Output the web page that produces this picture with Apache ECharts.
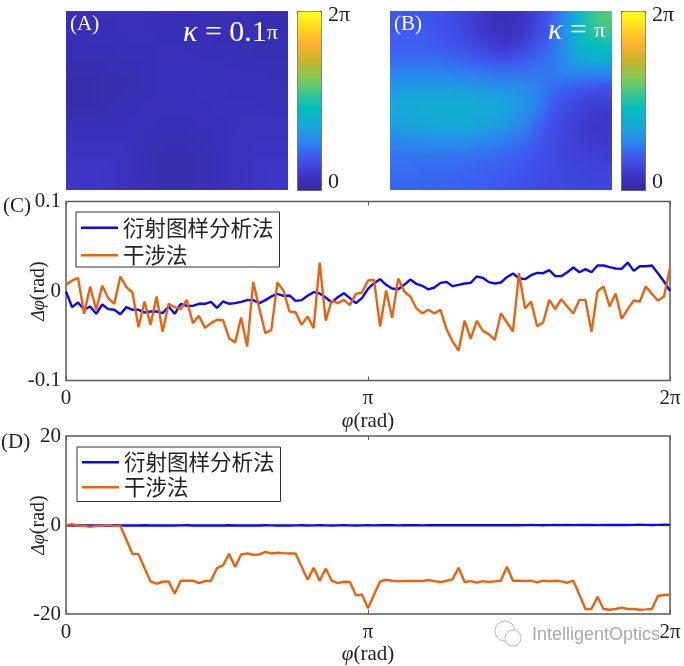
<!DOCTYPE html>
<html>
<head>
<meta charset="utf-8">
<style>
  html, body { margin: 0; padding: 0; background: #fff; }
  #main { width: 684px; height: 666px; }
</style>
</head>
<body>
<div id="main"></div>
<script src="https://cdn.jsdelivr.net/npm/echarts@6/dist/echarts.min.js"></script>
<script>
// Panel (C): phase error, kappa = pi range
const diffractionC = [
  -0.0006, -0.018, -0.0128, -0.021, -0.0173, -0.0255, -0.0151, -0.0203, -0.021, -0.0259,
  -0.018, -0.021, -0.021, -0.024, -0.0229, -0.0229, -0.0247, -0.0173, -0.0255, -0.0143,
  -0.0166, -0.0166, -0.0143, -0.0143, -0.0121, -0.0188, -0.0117, -0.0143, -0.0136, -0.0121,
  -0.0102, -0.0102, -0.0136, -0.0102, -0.0061, -0.0032, -0.0054, -0.005, -0.011, -0.0102,
  -0.0054, -0.0013, -0.0028, -0.0073, -0.0128, -0.0069, -0.0024, -0.008, -0.0136, -0.008,
  0.0024, 0.0087, 0.0132, 0.0069, 0.0028, 0.002, 0.0069, 0.0128, 0.008, 0.0058,
  0.0017, 0.0039, 0.0091, 0.0102, 0.0054, 0.0069, 0.0084, 0.0091, 0.0162, 0.0147,
  0.0099, 0.0084, 0.0095, 0.0154, 0.0195, 0.0143, 0.0132, 0.0177, 0.0203, 0.0199,
  0.0233, 0.0166, 0.0166, 0.021, 0.0262, 0.021, 0.0244, 0.021, 0.0285, 0.0285,
  0.0266, 0.0251, 0.0247, 0.0318, 0.0225, 0.0277, 0.0277, 0.0285, 0.0199, 0.0106,
  0.0002
];
const interferenceC = [
  0.0069, 0.0117, 0.0147, -0.0255, 0.005, -0.021, 0.0058, -0.008, -0.0143, 0.0162,
  0.0043, -0.0017, -0.0404, -0.0117, -0.0378, -0.0061, -0.0456, -0.0143, -0.0181, -0.0203,
  -0.0099, -0.0359, -0.0277, -0.0412, -0.0359, -0.0322, -0.0326, -0.0527, -0.0575, -0.0296,
  -0.062, 0.0102, -0.0192, -0.0471, -0.0434, 0.0095, 0.0006, -0.0229, -0.0236, -0.0378,
  -0.0285, -0.0415, 0.0318, -0.033, -0.0106, -0.0136, -0.0099, -0.0158, -0.0032, -0.0017,
  0.0117, 0.0125, -0.0397, 0.0006, -0.03, 0.014, -0.0006, -0.0061, -0.0192, -0.0251,
  -0.021, -0.0251, -0.021, -0.0426, -0.0564, -0.0665, -0.033, -0.0534, -0.0333, -0.0445,
  -0.0482, -0.0546, -0.0248, -0.0352, -0.0452, 0.0199, -0.0195, -0.0117, -0.0393, -0.0352,
  -0.0099, -0.0203, -0.0091, -0.0173, -0.0251, -0.0099, -0.0099, -0.0456, -0.0002, 0.005,
  -0.0173, -0.0028, -0.0311, -0.0203, -0.0106, -0.0117, 0.005, -0.0032, -0.0106, -0.0061,
  0.0255
];

// Panel (D)
const diffractionD = [
  -0.08, -0.1, -0.06, -0.1, -0.08, -0.12, -0.08, -0.1, -0.06, -0.1,
  -0.08, -0.1, -0.1, -0.06, -0.1, -0.12, -0.08, -0.1, -0.1, -0.08,
  -0.06, -0.1, -0.08, -0.1, -0.12, -0.08, -0.1, -0.06, -0.1, -0.08,
  -0.1, -0.08, -0.1, -0.06, -0.08, -0.1, -0.08, -0.1, -0.08, -0.06,
  -0.1, -0.08, -0.06, -0.08, -0.1, -0.08, -0.06, -0.08, -0.1, -0.08,
  -0.06, -0.08, -0.06, -0.04, -0.06, -0.08, -0.06, -0.04, -0.06, -0.08,
  -0.06, -0.04, -0.06, -0.04, -0.06, -0.04, -0.02, -0.04, -0.06, -0.04,
  -0.02, -0.04, -0.02, -0.04, -0.02, -0.04, -0.02, 0, -0.02, -0.04,
  -0.02, 0, -0.02, 0, -0.02, 0, 0.02, 0, -0.02, 0,
  0.02, 0, 0.02, 0, 0.02, 0.04, 0.02, 0, 0.02, 0.04,
  0.03
];
const interferenceD = [
  -0.04, 0.19, -0.11, -0.19, -0.41, -0.19, -0.19, 0.04, -0.19, -0.19,
  -3.33, -6.47, -6.54, -9.68, -12.67, -13.2, -12.75, -12.67, -15.44, -12.52,
  -12.52, -12.52, -13.05, -12.6, -12.52, -9.68, -9.08, -6.47, -9.46, -6.62,
  -6.39, -6.69, -6.62, -6.02, -6.39, -6.24, -6.32, -6.39, -6.39, -9.31,
  -12.3, -9.61, -12.52, -9.76, -12.52, -13.05, -12.75, -12.82, -15.81, -15.59,
  -18.73, -15.66, -12.67, -12.3, -12.52, -12.67, -12.6, -12.6, -12.6, -12.6,
  -12.37, -12.6, -12.82, -12.52, -12.22, -9.61, -12.82, -12.6, -12.97, -12.6,
  -12.82, -12.67, -12.52, -9.38, -12.52, -12.52, -12.6, -12.52, -12.9, -12.52,
  -12.67, -12.52, -12.67, -12.97, -12.52, -15.66, -18.88, -18.88, -16.11, -18.88,
  -19.03, -18.88, -18.58, -18.88, -18.88, -19.03, -18.96, -18.88, -15.96, -15.74,
  -15.66
];

// Phase maps, rows listed top to bottom (rad)
const mapA = [
  [0.34, 0.36, 0.36, 0.36, 0.36, 0.36, 0.34, 0.34, 0.32, 0.32, 0.30, 0.30, 0.28, 0.28, 0.26, 0.26],
  [0.34, 0.34, 0.34, 0.36, 0.36, 0.36, 0.36, 0.34, 0.34, 0.32, 0.32, 0.30, 0.30, 0.28, 0.28, 0.28],
  [0.30, 0.32, 0.34, 0.34, 0.36, 0.36, 0.36, 0.36, 0.36, 0.34, 0.34, 0.34, 0.32, 0.32, 0.30, 0.30],
  [0.28, 0.28, 0.30, 0.32, 0.34, 0.34, 0.36, 0.38, 0.38, 0.38, 0.36, 0.36, 0.34, 0.34, 0.34, 0.32],
  [0.24, 0.24, 0.26, 0.28, 0.30, 0.34, 0.36, 0.38, 0.40, 0.40, 0.38, 0.38, 0.38, 0.36, 0.36, 0.34],
  [0.22, 0.22, 0.24, 0.26, 0.30, 0.34, 0.36, 0.38, 0.40, 0.40, 0.40, 0.40, 0.38, 0.38, 0.38, 0.36],
  [0.22, 0.22, 0.24, 0.28, 0.32, 0.36, 0.38, 0.38, 0.38, 0.40, 0.40, 0.40, 0.40, 0.40, 0.38, 0.38],
  [0.28, 0.28, 0.30, 0.32, 0.36, 0.38, 0.38, 0.36, 0.36, 0.38, 0.40, 0.40, 0.42, 0.42, 0.42, 0.40],
  [0.36, 0.36, 0.36, 0.38, 0.38, 0.38, 0.36, 0.34, 0.34, 0.36, 0.38, 0.40, 0.42, 0.44, 0.44, 0.44],
  [0.42, 0.42, 0.42, 0.42, 0.40, 0.36, 0.32, 0.30, 0.30, 0.32, 0.36, 0.40, 0.44, 0.46, 0.48, 0.46],
  [0.48, 0.48, 0.48, 0.46, 0.42, 0.36, 0.30, 0.26, 0.26, 0.28, 0.34, 0.40, 0.46, 0.48, 0.50, 0.50],
  [0.52, 0.54, 0.52, 0.48, 0.42, 0.34, 0.28, 0.24, 0.24, 0.28, 0.34, 0.40, 0.46, 0.48, 0.52, 0.52],
  [0.54, 0.56, 0.54, 0.48, 0.40, 0.32, 0.28, 0.26, 0.26, 0.28, 0.34, 0.40, 0.44, 0.50, 0.52, 0.52]
];
const mapB = [
  [1.15, 1.15, 1.10, 1.05, 0.95, 0.80, 0.60, 0.40, 0.38, 0.50, 0.80, 1.15, 1.70, 2.60, 3.30, 3.60],
  [1.20, 1.20, 1.15, 1.10, 1.00, 0.85, 0.65, 0.45, 0.42, 0.60, 0.90, 1.25, 1.80, 2.70, 3.20, 3.40],
  [1.25, 1.25, 1.25, 1.20, 1.12, 1.00, 0.85, 0.70, 0.65, 0.80, 1.05, 1.35, 1.80, 2.50, 2.85, 2.95],
  [1.40, 1.40, 1.40, 1.38, 1.32, 1.25, 1.15, 1.05, 1.05, 1.15, 1.30, 1.50, 1.80, 2.20, 2.40, 2.45],
  [1.70, 1.70, 1.70, 1.70, 1.65, 1.60, 1.55, 1.50, 1.48, 1.50, 1.50, 1.55, 1.65, 1.70, 1.70, 1.70],
  [2.00, 2.05, 2.05, 2.05, 2.05, 2.00, 1.95, 1.90, 1.85, 1.80, 1.65, 1.45, 1.30, 1.20, 1.10, 1.05],
  [2.25, 2.30, 2.35, 2.35, 2.35, 2.35, 2.30, 2.25, 2.15, 2.00, 1.70, 1.30, 1.05, 0.90, 0.80, 0.78],
  [2.25, 2.30, 2.35, 2.40, 2.40, 2.40, 2.35, 2.25, 2.10, 1.90, 1.55, 1.15, 0.92, 0.78, 0.68, 0.65],
  [2.05, 2.10, 2.15, 2.20, 2.20, 2.20, 2.10, 2.00, 1.85, 1.65, 1.35, 1.05, 0.85, 0.72, 0.64, 0.62],
  [1.70, 1.75, 1.80, 1.85, 1.85, 1.80, 1.75, 1.65, 1.55, 1.40, 1.20, 0.98, 0.85, 0.75, 0.68, 0.65],
  [1.50, 1.50, 1.50, 1.50, 1.50, 1.48, 1.42, 1.38, 1.30, 1.20, 1.08, 0.95, 0.85, 0.80, 0.75, 0.72],
  [1.40, 1.40, 1.38, 1.38, 1.35, 1.32, 1.28, 1.25, 1.20, 1.10, 1.02, 0.95, 0.88, 0.85, 0.82, 0.80],
  [1.32, 1.32, 1.30, 1.28, 1.28, 1.25, 1.22, 1.18, 1.12, 1.05, 0.98, 0.92, 0.90, 0.88, 0.85, 0.85]
];

const colorRamp = ['#33289a', '#3e36ca', '#4056f0', '#2b88f0', '#17aad8', '#00bcc0', '#3fc88c', '#8cc850', '#c8b428', '#ffb030', '#ffd820', '#ffff10'];
const phaseMax = 6.283;
const seriesNames = ['衍射图样分析法', '干涉法'];
const lineColors = ['#0808f5', '#e8620f'];
const xTickLabels = { 0: '0', 50: 'π', 100: '2π' };

const serif = '"Liberation Serif", "Times New Roman", serif';
const axisGray = '#5a5a5a';

function toCells(rows) {
  const cells = [];
  rows.forEach((row, y) => row.forEach((v, x) => cells.push([x, y, v])));
  return cells;
}

// one small canvas pixel per cell, the browser smooths it when it is scaled up
function toCanvas(rows) {
  const canvas = document.createElement('canvas');
  canvas.width = rows[0].length;
  canvas.height = rows.length;
  const ctx = canvas.getContext('2d');
  rows.forEach((row, y) => row.forEach((v, x) => {
    ctx.fillStyle = echarts.color.lerp(v / phaseMax, colorRamp);
    ctx.fillRect(x, y, 1, 1);
  }));
  return canvas;
}

function mapAxes(rows, gridIndex) {
  return {
    x: { type: 'category', gridIndex, show: false, data: rows[0].map((_, i) => i) },
    y: { type: 'category', gridIndex, show: false, inverse: true, data: rows.map((_, i) => i) }
  };
}

function mapSeries(rows, gridIndex) {
  const canvas = toCanvas(rows);
  return {
    type: 'custom',
    xAxisIndex: gridIndex,
    yAxisIndex: gridIndex,
    data: toCells(rows),
    encode: { x: 0, y: 1 },
    silent: true,
    renderItem: (params, api) => {
      if (params.dataIndex !== 0) return null;
      const first = api.coord([0, 0]);
      const cell = api.size([1, 1]);
      return {
        type: 'image',
        style: {
          image: canvas,
          x: first[0] - cell[0] / 2,
          y: first[1] - cell[1] / 2,
          width: cell[0] * rows[0].length,
          height: cell[1] * rows.length
        }
      };
    }
  };
}

function lineAxisX(gridIndex, labelMargin, nameGap) {
  return {
    type: 'category',
    gridIndex,
    boundaryGap: false,
    data: diffractionC.map((_, i) => i),
    name: '{i|φ}(rad)',
    nameLocation: 'middle',
    nameGap,
    nameTextStyle: {
      fontFamily: serif, fontSize: 21, color: '#222',
      rich: { i: { fontFamily: serif, fontStyle: 'italic', fontSize: 21, color: '#222' } }
    },
    axisLine: { show: false, onZero: false },
    axisTick: { interval: 49, inside: true, length: 4, lineStyle: { color: axisGray } },
    axisLabel: {
      interval: 49, margin: labelMargin, fontFamily: serif, fontSize: 21, color: '#222',
      formatter: v => xTickLabels[v] || ''
    }
  };
}

function lineAxisY(gridIndex, min, max, interval, digits, nameGap) {
  return {
    type: 'value',
    gridIndex, min, max, interval,
    name: '{i|Δφ}(rad)',
    nameLocation: 'middle',
    nameRotate: 90,
    nameGap,
    nameMoveOverlap: false,
    nameTextStyle: {
      fontFamily: serif, fontSize: 20, color: '#222',
      rich: { i: { fontFamily: serif, fontStyle: 'italic', fontSize: 18, color: '#222' } }
    },
    splitLine: { show: false },
    axisLine: { show: false, onZero: false },
    axisTick: { inside: true, length: 4, lineStyle: { color: axisGray } },
    axisLabel: {
      margin: 5, fontFamily: serif, fontSize: 21, color: '#222',
      formatter: v => String(+v.toFixed(digits))
    }
  };
}

// same ticks on the opposite side of the box, no text
function mirrorAxis(axis, position) {
  return { ...axis, position, name: '', axisLabel: { show: false } };
}

function lineSeries(name, data, color, gridIndex) {
  return {
    name, type: 'line', data,
    xAxisIndex: gridIndex, yAxisIndex: gridIndex,
    symbol: 'none',
    lineStyle: { color, width: 2.4 },
    itemStyle: { color }
  };
}

function legendAt(left, top, itemGap, padding) {
  return {
    left, top,
    orient: 'vertical',
    data: seriesNames,
    icon: 'rect',
    padding,
    itemGap,
    itemWidth: 37,
    itemHeight: 2.5,
    borderColor: '#333',
    borderWidth: 1,
    backgroundColor: '#fff',
    textStyle: { fontFamily: '"Noto Sans CJK SC", sans-serif', fontSize: 21.5, color: '#222' },
    selectedMode: false
  };
}

function label(left, top, text, fill, fontSize, rich) {
  return { type: 'text', left, top, z: 20, style: { text, fill, font: fontSize + 'px ' + serif, rich } };
}

function colorBar(left, seriesIndex) {
  return {
    type: 'continuous', seriesIndex, dimension: 2, min: 0, max: phaseMax,
    left, top: 11, itemWidth: 24, itemHeight: 179, padding: 0,
    borderColor: axisGray, borderWidth: 1, text: null, calculable: false,
    inRange: { color: colorRamp }
  };
}

const axA = mapAxes(mapA, 0);
const axB = mapAxes(mapB, 1);
const xC = lineAxisX(2, 7, 30);
const xD = lineAxisX(3, 8, 28);
const yC = lineAxisY(2, -0.1, 0.1, 0.1, 1, 17);
const yD = lineAxisY(3, -20, 20, 20, 0, 17);
const kappaRich = {
  k: { fontFamily: serif, fontStyle: 'italic', fontSize: 30, fill: '#fff', color: '#fff' },
  p: { fontFamily: serif, fontSize: 22, fill: '#fff', color: '#fff' },
  n: { fontFamily: serif, fontSize: 30, fill: '#fff', color: '#fff' }
};

const chart = echarts.init(document.getElementById('main'));
chart.setOption({
  animation: false,
  backgroundColor: '#fff',
  grid: [
    { left: 66, top: 11, width: 222, height: 179, outerBoundsMode: 'none' },
    { left: 390, top: 11, width: 222, height: 179, outerBoundsMode: 'none' },
    { left: 66, top: 201.5, width: 604, height: 179, show: true, borderColor: axisGray, borderWidth: 1.5, outerBoundsMode: 'none' },
    { left: 66, top: 436, width: 604, height: 178, show: true, borderColor: axisGray, borderWidth: 1.5, outerBoundsMode: 'none' }
  ],
  xAxis: [axA.x, axB.x, { ...xC, position: 'bottom' }, { ...xD, position: 'bottom' }, mirrorAxis(xC, 'top'), mirrorAxis(xD, 'top')],
  yAxis: [axA.y, axB.y, { ...yC, position: 'left' }, { ...yD, position: 'left' }, mirrorAxis(yC, 'right'), mirrorAxis(yD, 'right')],
  visualMap: [colorBar(297, 0), colorBar(621, 1)],
  legend: [legendAt(76, 212, 6, [5, 6, 1, 5]), legendAt(77, 447, 3.5, [4.5, 6, 3.5, 5])],
  series: [
    mapSeries(mapA, 0),
    mapSeries(mapB, 1),
    lineSeries(seriesNames[0], diffractionC, lineColors[0], 2),
    lineSeries(seriesNames[1], interferenceC, lineColors[1], 2),
    lineSeries(seriesNames[0], diffractionD, lineColors[0], 3),
    lineSeries(seriesNames[1], interferenceD, lineColors[1], 3)
  ],
  graphic: [
    label(70, 14, '(A)', '#fff', 21),
    label(394, 14, '(B)', '#fff', 21),
    label(183, 18, '{k|κ}{n| = 0.1}{p|π}', '#fff', 30, kappaRich),
    label(548, 16, '{k|κ}{n| = }{p|π}', '#fff', 30, kappaRich),
    label(328, 4, '2π', '#222', 22),
    label(328, 171, '0', '#222', 22),
    label(652, 4, '2π', '#222', 22),
    label(652, 171, '0', '#222', 22),
    label(3, 196, '(C)', '#222', 21),
    label(1, 432, '(D)', '#222', 21),
    { type: 'circle', shape: { cx: 505, cy: 631, r: 10 }, style: { fill: 'none', stroke: '#bbb', lineWidth: 1 }, z: 20 },
    { type: 'circle', shape: { cx: 513, cy: 638, r: 8 }, style: { fill: '#fff', stroke: '#bbb', lineWidth: 1 }, z: 20 },
    { type: 'text', left: 532, top: 626, z: 20, style: { text: 'IntelligentOptics', fill: '#a8a8a8', font: '18px "Liberation Sans", sans-serif' } }
  ]
});
</script>
</body>
</html>
